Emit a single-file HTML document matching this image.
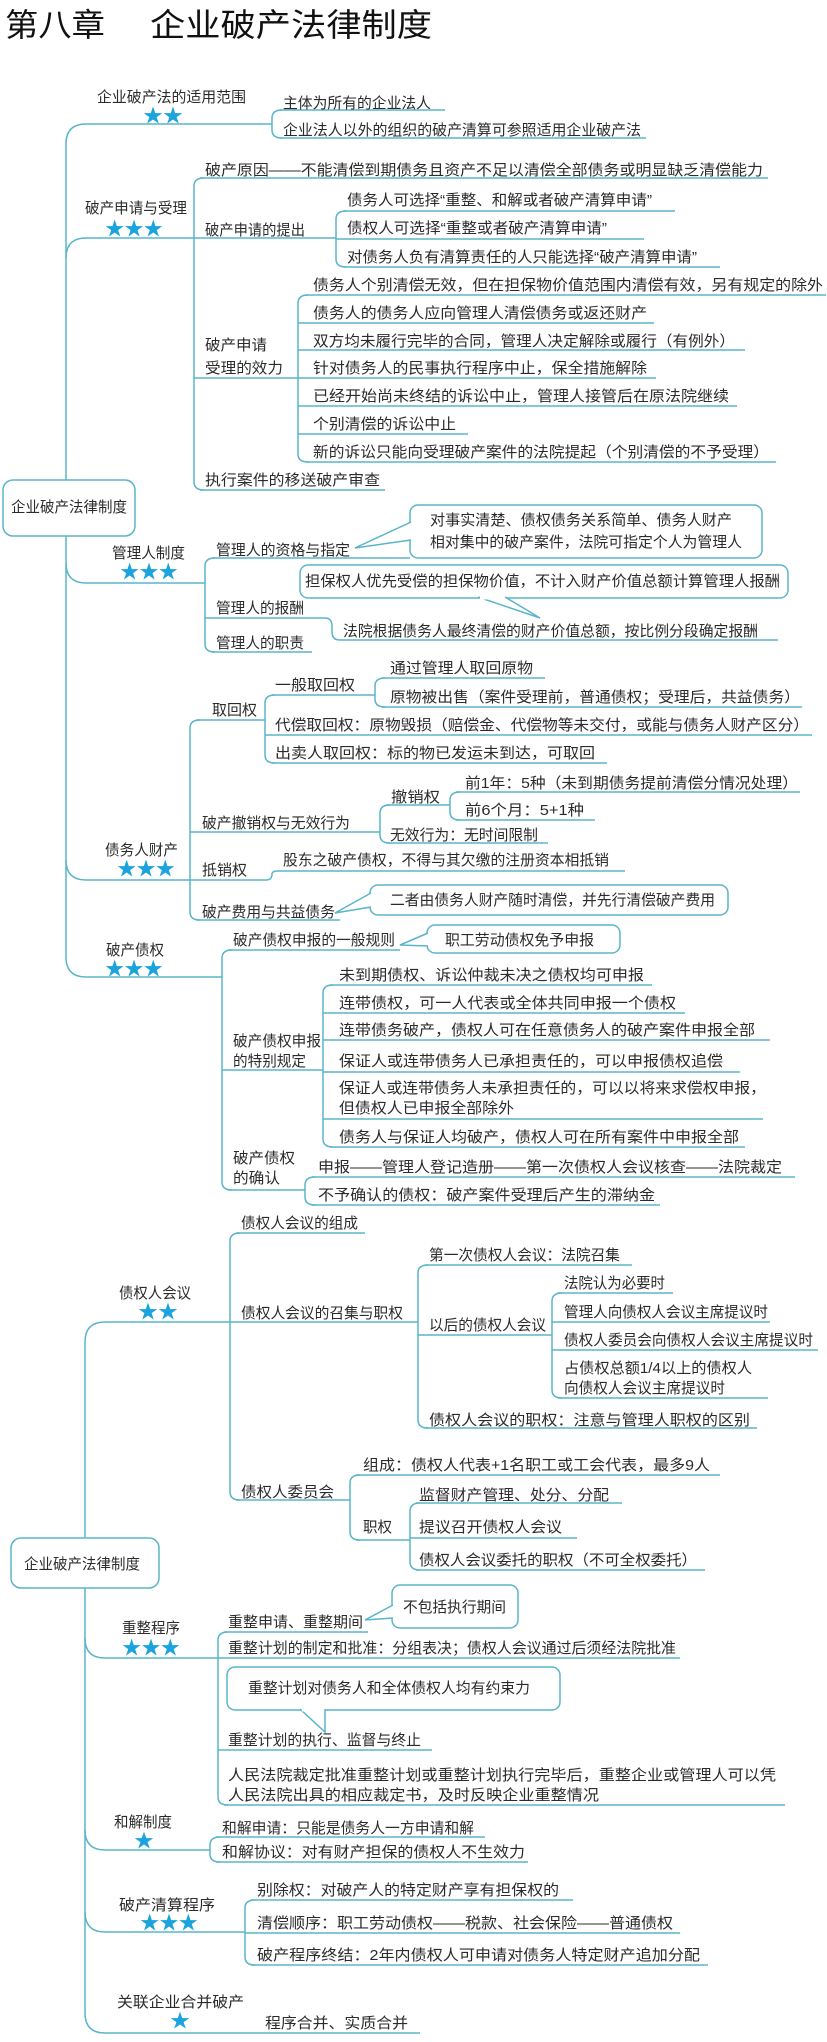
<!DOCTYPE html>
<html><head><meta charset="utf-8"><style>
html,body{margin:0;padding:0;background:#fff;}
svg{display:block;}
text{font-family:"Liberation Sans","Noto Sans CJK SC",sans-serif;font-size:15px;fill:#2b2b2b;}
.s{fill:#1aa3dc;font-size:19px;}
.t{font-size:32px;fill:#111;}
path,rect{fill:none;stroke:#5ab5c8;stroke-width:1.5;}
.cb{fill:#fff;}
</style></head><body>
<svg width="827" height="2042" viewBox="0 0 827 2042" xmlns="http://www.w3.org/2000/svg">
<g lengthAdjust="spacingAndGlyphs">
<text class="t" x="5" y="36" textLength="100" lengthAdjust="spacingAndGlyphs">第八章</text>
<text class="t" x="150" y="36" textLength="282" lengthAdjust="spacingAndGlyphs">企业破产法律制度</text>
</g>

<!-- ===== Section 1 lines ===== -->
<path d="M66,480 V144 Q66,124 86,124 H272"/>
<path d="M282,110 Q272,110 272,118 V130 Q272,138 282,138"/>
<path d="M280,110 H445 M280,138 H646"/>
<path d="M66,258 Q66,238 86,238 H194"/>
<path d="M204,178 Q194,178 194,186 V482 Q194,490 204,490"/>
<path d="M200,178 H768 M194,238 H336 M194,378 H298 M200,490 H385"/>
<path d="M346,211 Q336,211 336,219 V259 Q336,267 346,267"/>
<path d="M344,211 H675 M336,239 H644 M344,267 H720"/>
<path d="M308,295 Q298,295 298,303 V454 Q298,462 308,462"/>
<path d="M306,295 H826 M298,323 H654 M298,350 H745 M298,378 H656 M298,406 H737 M298,434 H468 M306,462 H776"/>
<rect x="3" y="480" width="132" height="56" rx="10" class="cb"/>

<path d="M66,536 V957 Q66,977 86,977 H222"/>
<path d="M66,563 Q66,583 86,583 H205"/>
<path d="M215,558 Q205,558 205,566 V644 Q205,652 215,652"/>
<path d="M212,558 H410 M205,583 H205 M212,652 H312"/>
<path d="M205,618 H325 Q332,618 332,626 V632 Q332,640 340,640 H778"/>
<path d="M66,860 Q66,880 86,880 H190"/>
<path d="M200,720 Q190,720 190,728 V912 Q190,920 200,920"/>
<path d="M196,720 H265 M190,832 H380 M196,920 H340"/>
<path d="M190,880 H266 Q272,880 272,874 Q272,871 278,871 H625"/>
<path d="M275,695 Q265,695 265,703 V755 Q265,763 275,763"/>
<path d="M272,695 H375 M265,735 H812 M272,763 H607"/>
<path d="M385,678 Q375,678 375,686 V699 Q375,707 385,707"/>
<path d="M382,678 H545 M382,707 H802"/>
<path d="M390,805 Q380,805 380,813 V835 Q380,843 390,843"/>
<path d="M386,805 H450 M386,843 H548"/>
<path d="M460,792 Q450,792 450,800 V812 Q450,820 460,820"/>
<path d="M456,792 H800 M456,820 H595"/>
<path d="M232,950 Q222,950 222,958 V1182 Q222,1190 232,1190"/>
<path d="M228,950 H400 M222,1070 H323 M228,1190 H305"/>
<path d="M333,985 Q323,985 323,993 V1139 Q323,1147 333,1147"/>
<path d="M330,985 H652 M323,1013 H685 M323,1040 H770 M323,1072 H740 M323,1119 H763 M330,1147 H745"/>
<path d="M315,1177 Q305,1177 305,1185 V1197 Q305,1205 315,1205"/>
<path d="M312,1177 H795 M312,1205 H660"/>

<!-- callouts section 1 -->
<rect x="410" y="505" width="352" height="53" rx="8" class="cb"/>
<path d="M411,522 L355,548 L411,540" class="cb"/>
<path d="M412,523 L412,539" style="stroke:#fff;stroke-width:3"/>
<rect x="300" y="565" width="488" height="33" rx="8" class="cb"/>
<path d="M478,597 L540,618 L505,597" class="cb"/>
<path d="M480,598 L503,598" style="stroke:#fff;stroke-width:3"/>
<rect x="370" y="885" width="358" height="30" rx="8" class="cb"/>
<path d="M371,893 L335,913 L371,907" class="cb"/>
<path d="M372,894 L372,906" style="stroke:#fff;stroke-width:3"/>
<rect x="427" y="925" width="193" height="28" rx="8" class="cb"/>
<path d="M428,933 L400,945 L428,946" class="cb"/>
<path d="M429,934 L429,945" style="stroke:#fff;stroke-width:3"/>

<!-- ===== Section 2 lines ===== -->
<path d="M85,1538 V1342 Q85,1322 105,1322 H230"/>
<path d="M240,1233 Q230,1233 230,1241 V1492 Q230,1500 240,1500"/>
<path d="M236,1233 H365 M230,1322 H418 M236,1500 H350"/>
<path d="M428,1265 Q418,1265 418,1273 V1420 Q418,1428 428,1428"/>
<path d="M425,1265 H632 M418,1335 H552 M425,1428 H757"/>
<path d="M562,1293 Q552,1293 552,1301 V1390 Q552,1398 562,1398"/>
<path d="M558,1293 H673 M552,1322 H770 M552,1350 H818 M558,1398 H768"/>
<path d="M360,1475 Q350,1475 350,1483 V1532 Q350,1540 360,1540"/>
<path d="M356,1475 H720 M356,1540 H410"/>
<path d="M420,1503 Q410,1503 410,1511 V1562 Q410,1570 420,1570"/>
<path d="M416,1503 H622 M410,1538 H577 M416,1570 H705"/>
<rect x="11" y="1538" width="148" height="50" rx="10" class="cb"/>

<path d="M85,1588 V2013 Q85,2033 105,2033 H420"/>
<path d="M85,1638 Q85,1658 105,1658 H218"/>
<path d="M228,1632 Q218,1632 218,1640 V1797 Q218,1805 228,1805"/>
<path d="M224,1632 H368 M218,1658 H680 M218,1750 H432 M224,1805 H785"/>
<path d="M85,1830 Q85,1850 105,1850 H210"/>
<path d="M220,1837 Q210,1837 210,1845 V1854 Q210,1862 220,1862"/>
<path d="M216,1837 H485 M216,1862 H528"/>
<path d="M85,1912 Q85,1932 105,1932 H245"/>
<path d="M255,1900 Q245,1900 245,1908 V1957 Q245,1965 255,1965"/>
<path d="M251,1900 H573 M245,1933 H680 M251,1965 H708"/>

<rect x="392" y="1585" width="126" height="43" rx="8" class="cb"/>
<path d="M393,1605 L365,1620 L393,1618" class="cb"/>
<path d="M394,1606 L394,1617" style="stroke:#fff;stroke-width:3"/>
<rect x="227" y="1667" width="333" height="43" rx="8" class="cb"/>
<path d="M300,1709 L325,1732 L325,1709" class="cb"/>
<path d="M302,1710 L324,1710" style="stroke:#fff;stroke-width:3"/>

<!-- ===== Texts ===== -->
<g lengthAdjust="spacingAndGlyphs">
<text x="97" y="102" textLength="149" lengthAdjust="spacingAndGlyphs">企业破产法的适用范围</text>
<text class="s" x="143" y="122" textLength="40" lengthAdjust="spacingAndGlyphs">★★</text>
<text x="283" y="108" textLength="148" lengthAdjust="spacingAndGlyphs">主体为所有的企业法人</text>
<text x="283" y="135" textLength="358" lengthAdjust="spacingAndGlyphs">企业法人以外的组织的破产清算可参照适用企业破产法</text>

<text x="85" y="213" textLength="102" lengthAdjust="spacingAndGlyphs">破产申请与受理</text>
<text class="s" x="105" y="235" textLength="58" lengthAdjust="spacingAndGlyphs">★★★</text>
<text x="205" y="175" textLength="558" lengthAdjust="spacingAndGlyphs">破产原因——不能清偿到期债务且资产不足以清偿全部债务或明显缺乏清偿能力</text>
<text x="205" y="235" textLength="100" lengthAdjust="spacingAndGlyphs">破产申请的提出</text>
<text x="347" y="205" textLength="305" lengthAdjust="spacingAndGlyphs">债务人可选择“重整、和解或者破产清算申请”</text>
<text x="347" y="233" textLength="260" lengthAdjust="spacingAndGlyphs">债权人可选择“重整或者破产清算申请”</text>
<text x="347" y="262" textLength="350" lengthAdjust="spacingAndGlyphs">对债务人负有清算责任的人只能选择“破产清算申请”</text>
<text x="205" y="350" textLength="62" lengthAdjust="spacingAndGlyphs">破产申请</text>
<text x="205" y="373" textLength="78" lengthAdjust="spacingAndGlyphs">受理的效力</text>
<text x="313" y="290" textLength="510" lengthAdjust="spacingAndGlyphs">债务人个别清偿无效，但在担保物价值范围内清偿有效，另有规定的除外</text>
<text x="313" y="318" textLength="334" lengthAdjust="spacingAndGlyphs">债务人的债务人应向管理人清偿债务或返还财产</text>
<text x="313" y="346" textLength="422" lengthAdjust="spacingAndGlyphs">双方均未履行完毕的合同，管理人决定解除或履行（有例外）</text>
<text x="313" y="373" textLength="334" lengthAdjust="spacingAndGlyphs">针对债务人的民事执行程序中止，保全措施解除</text>
<text x="313" y="401" textLength="416" lengthAdjust="spacingAndGlyphs">已经开始尚未终结的诉讼中止，管理人接管后在原法院继续</text>
<text x="313" y="429" textLength="143" lengthAdjust="spacingAndGlyphs">个别清偿的诉讼中止</text>
<text x="313" y="457" textLength="456" lengthAdjust="spacingAndGlyphs">新的诉讼只能向受理破产案件的法院提起（个别清偿的不予受理）</text>
<text x="205" y="485" textLength="175" lengthAdjust="spacingAndGlyphs">执行案件的移送破产审查</text>

<text x="11" y="512" textLength="116" lengthAdjust="spacingAndGlyphs">企业破产法律制度</text>

<text x="430" y="525" textLength="302" lengthAdjust="spacingAndGlyphs">对事实清楚、债权债务关系简单、债务人财产</text>
<text x="430" y="547" textLength="312" lengthAdjust="spacingAndGlyphs">相对集中的破产案件，法院可指定个人为管理人</text>
<text x="112" y="558" textLength="73" lengthAdjust="spacingAndGlyphs">管理人制度</text>
<text class="s" x="120" y="578" textLength="58" lengthAdjust="spacingAndGlyphs">★★★</text>
<text x="216" y="555" textLength="134" lengthAdjust="spacingAndGlyphs">管理人的资格与指定</text>
<text x="305" y="586" textLength="475" lengthAdjust="spacingAndGlyphs">担保权人优先受偿的担保物价值，不计入财产价值总额计算管理人报酬</text>
<text x="216" y="613" textLength="88" lengthAdjust="spacingAndGlyphs">管理人的报酬</text>
<text x="343" y="636" textLength="415" lengthAdjust="spacingAndGlyphs">法院根据债务人最终清偿的财产价值总额，按比例分段确定报酬</text>
<text x="216" y="648" textLength="88" lengthAdjust="spacingAndGlyphs">管理人的职责</text>

<text x="105" y="855" textLength="73" lengthAdjust="spacingAndGlyphs">债务人财产</text>
<text class="s" x="117" y="875" textLength="58" lengthAdjust="spacingAndGlyphs">★★★</text>
<text x="212" y="715" textLength="45" lengthAdjust="spacingAndGlyphs">取回权</text>
<text x="275" y="690" textLength="80" lengthAdjust="spacingAndGlyphs">一般取回权</text>
<text x="390" y="673" textLength="143" lengthAdjust="spacingAndGlyphs">通过管理人取回原物</text>
<text x="390" y="702" textLength="410" lengthAdjust="spacingAndGlyphs">原物被出售（案件受理前，普通债权；受理后，共益债务）</text>
<text x="275" y="730" textLength="534" lengthAdjust="spacingAndGlyphs">代偿取回权：原物毁损（赔偿金、代偿物等未交付，或能与债务人财产区分）</text>
<text x="275" y="758" textLength="320" lengthAdjust="spacingAndGlyphs">出卖人取回权：标的物已发运未到达，可取回</text>
<text x="202" y="828" textLength="148" lengthAdjust="spacingAndGlyphs">破产撤销权与无效行为</text>
<text x="391" y="802" textLength="49" lengthAdjust="spacingAndGlyphs">撤销权</text>
<text x="465" y="788" textLength="333" lengthAdjust="spacingAndGlyphs">前1年：5种（未到期债务提前清偿分情况处理）</text>
<text x="465" y="815" textLength="119" lengthAdjust="spacingAndGlyphs">前6个月：5+1种</text>
<text x="390" y="840" textLength="148" lengthAdjust="spacingAndGlyphs">无效行为：无时间限制</text>
<text x="202" y="875" textLength="45" lengthAdjust="spacingAndGlyphs">抵销权</text>
<text x="283" y="865" textLength="326" lengthAdjust="spacingAndGlyphs">股东之破产债权，不得与其欠缴的注册资本相抵销</text>
<text x="202" y="917" textLength="133" lengthAdjust="spacingAndGlyphs">破产费用与共益债务</text>
<text x="390" y="905" textLength="325" lengthAdjust="spacingAndGlyphs">二者由债务人财产随时清偿，并先行清偿破产费用</text>

<text x="106" y="955" textLength="58" lengthAdjust="spacingAndGlyphs">破产债权</text>
<text class="s" x="105" y="975" textLength="58" lengthAdjust="spacingAndGlyphs">★★★</text>
<text x="233" y="945" textLength="162" lengthAdjust="spacingAndGlyphs">破产债权申报的一般规则</text>
<text x="445" y="945" textLength="149" lengthAdjust="spacingAndGlyphs">职工劳动债权免予申报</text>
<text x="339" y="980" textLength="305" lengthAdjust="spacingAndGlyphs">未到期债权、诉讼仲裁未决之债权均可申报</text>
<text x="339" y="1008" textLength="337" lengthAdjust="spacingAndGlyphs">连带债权，可一人代表或全体共同申报一个债权</text>
<text x="339" y="1035" textLength="416" lengthAdjust="spacingAndGlyphs">连带债务破产，债权人可在任意债务人的破产案件申报全部</text>
<text x="233" y="1046" textLength="88" lengthAdjust="spacingAndGlyphs">破产债权申报</text>
<text x="233" y="1066" textLength="73" lengthAdjust="spacingAndGlyphs">的特别规定</text>
<text x="339" y="1066" textLength="384" lengthAdjust="spacingAndGlyphs">保证人或连带债务人已承担责任的，可以申报债权追偿</text>
<text x="339" y="1093" textLength="427" lengthAdjust="spacingAndGlyphs">保证人或连带债务人未承担责任的，可以以将来求偿权申报，</text>
<text x="339" y="1113" textLength="175" lengthAdjust="spacingAndGlyphs">但债权人已申报全部除外</text>
<text x="339" y="1142" textLength="400" lengthAdjust="spacingAndGlyphs">债务人与保证人均破产，债权人可在所有案件中申报全部</text>
<text x="233" y="1163" textLength="62" lengthAdjust="spacingAndGlyphs">破产债权</text>
<text x="233" y="1183" textLength="47" lengthAdjust="spacingAndGlyphs">的确认</text>
<text x="318" y="1172" textLength="464" lengthAdjust="spacingAndGlyphs">申报——管理人登记造册——第一次债权人会议核查——法院裁定</text>
<text x="318" y="1200" textLength="337" lengthAdjust="spacingAndGlyphs">不予确认的债权：破产案件受理后产生的滞纳金</text>

<!-- section 2 -->
<text x="119" y="1298" textLength="72" lengthAdjust="spacingAndGlyphs">债权人会议</text>
<text class="s" x="138" y="1318" textLength="40" lengthAdjust="spacingAndGlyphs">★★</text>
<text x="241" y="1228" textLength="117" lengthAdjust="spacingAndGlyphs">债权人会议的组成</text>
<text x="241" y="1318" textLength="162" lengthAdjust="spacingAndGlyphs">债权人会议的召集与职权</text>
<text x="429" y="1260" textLength="191" lengthAdjust="spacingAndGlyphs">第一次债权人会议：法院召集</text>
<text x="429" y="1330" textLength="117" lengthAdjust="spacingAndGlyphs">以后的债权人会议</text>
<text x="564" y="1288" textLength="101" lengthAdjust="spacingAndGlyphs">法院认为必要时</text>
<text x="564" y="1317" textLength="204" lengthAdjust="spacingAndGlyphs">管理人向债权人会议主席提议时</text>
<text x="564" y="1345" textLength="249" lengthAdjust="spacingAndGlyphs">债权人委员会向债权人会议主席提议时</text>
<text x="564" y="1373" textLength="188" lengthAdjust="spacingAndGlyphs">占债权总额1/4以上的债权人</text>
<text x="564" y="1393" textLength="161" lengthAdjust="spacingAndGlyphs">向债权人会议主席提议时</text>
<text x="429" y="1425" textLength="321" lengthAdjust="spacingAndGlyphs">债权人会议的职权：注意与管理人职权的区别</text>
<text x="241" y="1497" textLength="93" lengthAdjust="spacingAndGlyphs">债权人委员会</text>
<text x="363" y="1470" textLength="347" lengthAdjust="spacingAndGlyphs">组成：债权人代表+1名职工或工会代表，最多9人</text>
<text x="363" y="1532" textLength="29" lengthAdjust="spacingAndGlyphs">职权</text>
<text x="419" y="1500" textLength="190" lengthAdjust="spacingAndGlyphs">监督财产管理、处分、分配</text>
<text x="419" y="1532" textLength="143" lengthAdjust="spacingAndGlyphs">提议召开债权人会议</text>
<text x="419" y="1565" textLength="278" lengthAdjust="spacingAndGlyphs">债权人会议委托的职权（不可全权委托）</text>

<text x="24" y="1569" textLength="116" lengthAdjust="spacingAndGlyphs">企业破产法律制度</text>

<text x="122" y="1633" textLength="58" lengthAdjust="spacingAndGlyphs">重整程序</text>
<text class="s" x="122" y="1654" textLength="58" lengthAdjust="spacingAndGlyphs">★★★</text>
<text x="228" y="1627" textLength="135" lengthAdjust="spacingAndGlyphs">重整申请、重整期间</text>
<text x="403" y="1612" textLength="103" lengthAdjust="spacingAndGlyphs">不包括执行期间</text>
<text x="228" y="1653" textLength="448" lengthAdjust="spacingAndGlyphs">重整计划的制定和批准：分组表决；债权人会议通过后须经法院批准</text>
<text x="248" y="1693" textLength="282" lengthAdjust="spacingAndGlyphs">重整计划对债务人和全体债权人均有约束力</text>
<text x="228" y="1745" textLength="193" lengthAdjust="spacingAndGlyphs">重整计划的执行、监督与终止</text>
<text x="228" y="1780" textLength="548" lengthAdjust="spacingAndGlyphs">人民法院裁定批准重整计划或重整计划执行完毕后，重整企业或管理人可以凭</text>
<text x="228" y="1800" textLength="371" lengthAdjust="spacingAndGlyphs">人民法院出具的相应裁定书，及时反映企业重整情况</text>

<text x="114" y="1827" textLength="58" lengthAdjust="spacingAndGlyphs">和解制度</text>
<text class="s" x="134" y="1847" textLength="20" lengthAdjust="spacingAndGlyphs">★</text>
<text x="222" y="1833" textLength="252" lengthAdjust="spacingAndGlyphs">和解申请：只能是债务人一方申请和解</text>
<text x="222" y="1857" textLength="303" lengthAdjust="spacingAndGlyphs">和解协议：对有财产担保的债权人不生效力</text>

<text x="119" y="1910" textLength="96" lengthAdjust="spacingAndGlyphs">破产清算程序</text>
<text class="s" x="140" y="1929" textLength="58" lengthAdjust="spacingAndGlyphs">★★★</text>
<text x="257" y="1895" textLength="302" lengthAdjust="spacingAndGlyphs">别除权：对破产人的特定财产享有担保权的</text>
<text x="257" y="1928" textLength="416" lengthAdjust="spacingAndGlyphs">清偿顺序：职工劳动债权——税款、社会保险——普通债权</text>
<text x="257" y="1960" textLength="443" lengthAdjust="spacingAndGlyphs">破产程序终结：2年内债权人可申请对债务人特定财产追加分配</text>

<text x="117" y="2007" textLength="127" lengthAdjust="spacingAndGlyphs">关联企业合并破产</text>
<text class="s" x="170" y="2027" textLength="20" lengthAdjust="spacingAndGlyphs">★</text>
<text x="265" y="2028" textLength="143" lengthAdjust="spacingAndGlyphs">程序合并、实质合并</text>
</g>
</svg>
</body></html>
